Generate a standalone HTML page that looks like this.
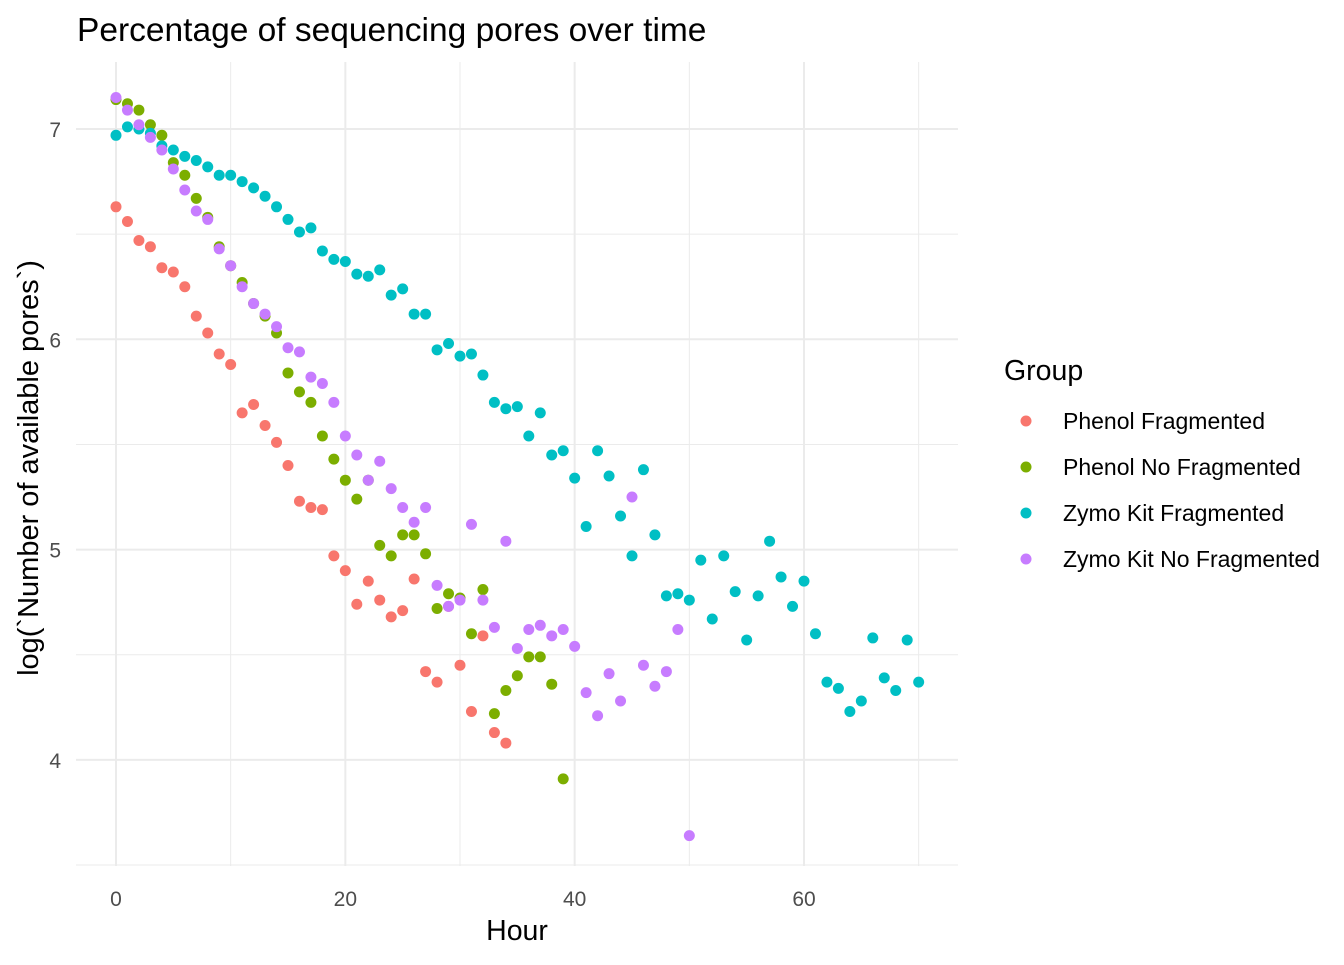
<!DOCTYPE html>
<html><head><meta charset="utf-8"><style>
body{margin:0;background:#fff;font-family:"Liberation Sans",Arial,sans-serif;}
svg text{font-family:"Liberation Sans",Arial,sans-serif;}
</style></head><body>
<svg id="chart" width="1344" height="960" xmlns="http://www.w3.org/2000/svg">
<rect width="1344" height="960" fill="#fff"/>
<g id="grid"></g><g id="pts"></g><g id="axes"></g>
<text x="77" y="41" font-size="33.5" fill="#000">Percentage of sequencing pores over time</text>
<text x="517" y="940" font-size="28.5" text-anchor="middle" fill="#000">Hour</text>
<text transform="translate(38,468) rotate(-90)" font-size="29" text-anchor="middle" fill="#000">log(`Number of available pores`)</text>
<g id="legend">
<text x="1004" y="380" font-size="28.5" fill="#000">Group</text>
</g>
</svg>
<script>
const groups=["Phenol Fragmented","Phenol No Fragmented","Zymo Kit Fragmented","Zymo Kit No Fragmented"];
const colors=["#F8766D","#7CAE00","#00BFC4","#C77CFF"];
const phenolFrag=[6.63,6.56,6.47,6.44,6.34,6.32,6.25,6.11,6.03,5.93,5.88,5.65,5.69,5.59,5.51,5.40,5.23,5.20,5.19,4.97,4.90,4.74,4.85,4.76,4.68,4.71,4.86,4.42,4.37,4.73,4.45,4.23,4.59,4.13,4.08];
const phenolNoFrag=[7.14,7.12,7.09,7.02,6.97,6.84,6.78,6.67,6.58,6.44,6.35,6.27,6.17,6.11,6.03,5.84,5.75,5.70,5.54,5.43,5.33,5.24,5.33,5.02,4.97,5.07,5.07,4.98,4.72,4.79,4.77,4.60,4.81,4.22,4.33,4.40,4.49,4.49,4.36,3.91];
const zymoFrag=[6.97,7.01,7.00,6.98,6.92,6.90,6.87,6.85,6.82,6.78,6.78,6.75,6.72,6.68,6.63,6.57,6.51,6.53,6.42,6.38,6.37,6.31,6.30,6.33,6.21,6.24,6.12,6.12,5.95,5.98,5.92,5.93,5.83,5.70,5.67,5.68,5.54,5.65,5.45,5.47,5.34,5.11,5.47,5.35,5.16,4.97,5.38,5.07,4.78,4.79,4.76,4.95,4.67,4.97,4.80,4.57,4.78,5.04,4.87,4.73,4.85,4.60,4.37,4.34,4.23,4.28,4.58,4.39,4.33,4.57,4.37];
const zymoNoFrag=[7.15,7.09,7.02,6.96,6.90,6.81,6.71,6.61,6.57,6.43,6.35,6.25,6.17,6.12,6.06,5.96,5.94,5.82,5.79,5.70,5.54,5.45,5.33,5.42,5.29,5.20,5.13,5.20,4.83,4.73,4.76,5.12,4.76,4.63,5.04,4.53,4.62,4.64,4.59,4.62,4.54,4.32,4.21,4.41,4.28,5.25,4.45,4.35,4.42,4.62,3.64];
const xTicks=[0,20,40,60];
const yTicks=[4,5,6,7];
const series=[phenolFrag,phenolNoFrag,zymoFrag,zymoNoFrag];
const NS="http://www.w3.org/2000/svg";
const X0=76,X1=958,Y0=62,Y1=866;
const sx=h=>116+h*(804-116)/60;
const sy=v=>129+(7-v)*210.3;
const grid=document.getElementById('grid'),pts=document.getElementById('pts'),axes=document.getElementById('axes'),leg=document.getElementById('legend');
function line(x1,y1,x2,y2,w){const l=document.createElementNS(NS,'line');l.setAttribute('x1',x1);l.setAttribute('y1',y1);l.setAttribute('x2',x2);l.setAttribute('y2',y2);l.setAttribute('stroke','#ebebeb');l.setAttribute('stroke-width',w);grid.appendChild(l);return l;}
for(let h=-10;h<=80;h+=10){const x=sx(h);if(x<X0||x>X1)continue;const l=line(x,Y0,x,Y1,h%20===0?2:1);

}
for(let v=3.5;v<=7.5;v+=0.5){const y=sy(v);if(y<Y0||y>Y1)continue;const l=line(X0,y,X1,y,Number.isInteger(v)?2:1);

}
xTicks.forEach(t=>{const e=document.createElementNS(NS,'text');e.setAttribute('x',sx(t));e.setAttribute('y',906);e.setAttribute('font-size','21');e.setAttribute('fill','#4d4d4d');e.setAttribute('text-anchor','middle');e.textContent=t;


axes.appendChild(e);});
yTicks.forEach(t=>{const e=document.createElementNS(NS,'text');e.setAttribute('x',61);e.setAttribute('y',sy(t)+8);e.setAttribute('font-size','21');e.setAttribute('fill','#4d4d4d');e.setAttribute('text-anchor','end');e.textContent=t;


axes.appendChild(e);});
series.forEach((s,gi)=>{s.forEach((v,h)=>{const c=document.createElementNS(NS,'circle');c.setAttribute('cx',sx(h));c.setAttribute('cy',sy(v));c.setAttribute('r',5.5);c.setAttribute('fill',colors[gi]);


pts.appendChild(c);});});
groups.forEach((g,i)=>{const y=421+i*46;const c=document.createElementNS(NS,'circle');c.setAttribute('cx',1026);c.setAttribute('cy',y);c.setAttribute('r',5.5);c.setAttribute('fill',colors[i]);


leg.appendChild(c);const t=document.createElementNS(NS,'text');t.setAttribute('x',1063);t.setAttribute('y',y+8);t.setAttribute('font-size','23');t.setAttribute('fill','#000');t.textContent=g;


leg.appendChild(t);});
</script>
</body></html>
